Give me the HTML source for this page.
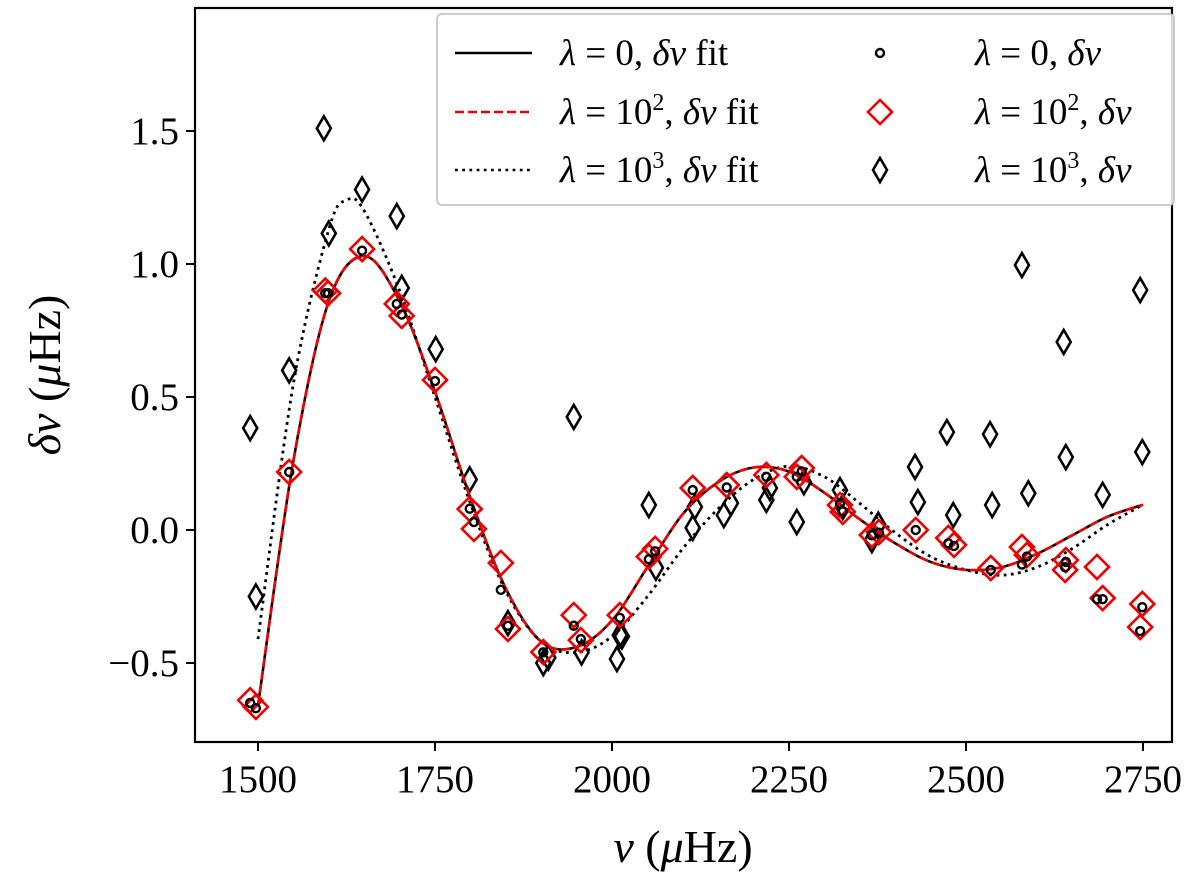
<!DOCTYPE html>
<html><head><meta charset="utf-8"><style>
html,body{margin:0;padding:0;background:#fff;}
svg text{font-family:"Liberation Serif",serif;fill:#000;}
</style></head><body>
<svg id="chart" width="1200" height="877" viewBox="0 0 1200 877" xmlns="http://www.w3.org/2000/svg">
<g id="plot"></g>
<g id="axes"></g>
<g id="legend"></g>
</svg>
<script>
// ---- data ----
const fitX = [1500,1550,1600,1650,1700,1750,1800,1850,1900,1950,2000,2050,2100,2150,2200,2250,2300,2350,2400,2450,2500,2550,2600,2650,2700,2750];
const fit0Y = [-0.66,0.26,0.86,1.03,0.86,0.52,0.12,-0.22,-0.42,-0.44,-0.34,-0.14,0.06,0.18,0.235,0.22,0.14,0.04,-0.05,-0.12,-0.15,-0.14,-0.09,-0.02,0.05,0.095];
const fit3X = [1500,1550,1600,1625,1650,1700,1750,1800,1850,1900,1950,2000,2050,2100,2150,2200,2250,2300,2350,2400,2450,2500,2550,2600,2650,2700,2750];
const fit3Y = [-0.41,0.55,1.13,1.24,1.20,0.90,0.50,0.10,-0.23,-0.42,-0.46,-0.40,-0.25,-0.07,0.08,0.19,0.24,0.20,0.10,-0.01,-0.10,-0.15,-0.17,-0.14,-0.07,0.02,0.095];
const ptX = [1489,1497,1544,1595,1599,1647,1696,1703,1750,1799,1805,1843,1853,1903,1946,1956,2011,2052,2061,2114,2162,2218,2261,2268,2322,2326,2367,2377,2429,2475,2483,2535,2579,2586,2641,2640,2685,2693,2749,2746];
const red2Y = [-0.64,-0.665,0.218,0.90,0.89,1.056,0.85,0.805,0.564,0.079,0.004,-0.124,-0.372,-0.459,-0.32,-0.414,-0.32,-0.10,-0.071,0.158,0.169,0.207,0.20,0.233,0.094,0.068,-0.019,-0.008,0.0,-0.03,-0.056,-0.143,-0.064,-0.094,-0.113,-0.15,-0.139,-0.256,-0.278,-0.365];
const circ0Y = [-0.65,-0.67,0.218,0.89,0.89,1.05,0.85,0.81,0.56,0.08,0.03,-0.225,-0.36,-0.46,-0.36,-0.41,-0.33,-0.11,-0.08,0.15,0.16,0.20,0.20,0.22,0.10,0.07,-0.02,-0.01,0.0,-0.05,-0.06,-0.15,-0.13,-0.10,-0.12,-0.14,-0.26,-0.26,-0.29,-0.38];
const blkX = [1489,1497,1544,1593,1600,1647,1696,1703,1751,1799,1853,1903,1910,1946,1957,2007,2014,2011,2052,2062,2114,2117,2158,2168,2218,2223,2261,2271,2322,2326,2367,2376,2428,2432,2473,2482,2534,2537,2579,2588,2638,2641,2693,2746,2749];
const blkY = [0.383,-0.25,0.60,1.51,1.115,1.28,1.18,0.91,0.68,0.19,-0.35,-0.50,-0.48,0.425,-0.46,-0.485,-0.40,-0.395,0.094,-0.142,0.008,0.087,0.056,0.101,0.113,0.158,0.03,0.18,0.15,0.087,-0.038,0.02,0.237,0.105,0.368,0.056,0.36,0.094,0.996,0.138,0.707,0.274,0.132,0.902,0.293];
const xTicks = [1500,1750,2000,2250,2500,2750];
const xTickLabels = ["1500","1750","2000","2250","2500","2750"];
const yTicks = [-0.5,0,0.5,1.0,1.5];
const yTickLabels = ["\u22120.5","0.0","0.5","1.0","1.5"];

// ---- scales ----
const L=195,R=1172,T=8,B=742;
const sx = v => 258 + (v-1500)*0.708;
const sy = v => 530 - v*266;
const NS="http://www.w3.org/2000/svg";
function mk(tag,attrs,parent){const e=document.createElementNS(NS,tag);for(const k in attrs)e.setAttribute(k,attrs[k]);parent.appendChild(e);return e;}
const plot=document.getElementById('plot'), axes=document.getElementById('axes'), leg=document.getElementById('legend');

function smoothPath(xs,ys){
  const p=xs.map((x,i)=>[sx(x),sy(ys[i])]);
  let d=`M${p[0][0]},${p[0][1]}`;
  for(let i=0;i<p.length-1;i++){
    const p0=p[Math.max(0,i-1)],p1=p[i],p2=p[i+1],p3=p[Math.min(p.length-1,i+2)];
    const c1=[p1[0]+(p2[0]-p0[0])/6,p1[1]+(p2[1]-p0[1])/6];
    const c2=[p2[0]-(p3[0]-p1[0])/6,p2[1]-(p3[1]-p1[1])/6];
    d+=` C${c1[0]},${c1[1]} ${c2[0]},${c2[1]} ${p2[0]},${p2[1]}`;
  }
  return d;
}
function diamond(cx,cy,w,h){return `M${cx},${cy-h} L${cx+w},${cy} L${cx},${cy+h} L${cx-w},${cy} Z`;}

blkX.forEach((x,i)=>{
  const e=mk('path',{d:diamond(sx(x),sy(blkY[i]),7,12),fill:'none',stroke:'#000','stroke-width':2.6},plot);
  
  
});
let f=mk('path',{d:smoothPath(fit3X,fit3Y),fill:'none',stroke:'#000','stroke-width':2.8,'stroke-dasharray':'2.8 4.4'},plot);


f=mk('path',{d:smoothPath(fitX,fit0Y),fill:'none',stroke:'#000','stroke-width':2.6},plot);


f=mk('path',{d:smoothPath(fitX,fit0Y),fill:'none',stroke:'#e00','stroke-width':2.6,'stroke-dasharray':'9 4'},plot);


ptX.forEach((x,i)=>{
  const e=mk('path',{d:diamond(sx(x),sy(red2Y[i]),12,12),fill:'none',stroke:'#e00','stroke-width':2.6},plot);
  
  
});
ptX.forEach((x,i)=>{
  const e=mk('circle',{cx:sx(x),cy:sy(circ0Y[i]),r:4,fill:'none',stroke:'#000','stroke-width':2.4},plot);
  
  
});

let fr=mk('rect',{x:L,y:T,width:R-L,height:B-T,fill:'none',stroke:'#000','stroke-width':2.2},axes);


xTicks.forEach((v,i)=>{
  const t=mk('line',{x1:sx(v),x2:sx(v),y1:B,y2:B+9,stroke:'#000','stroke-width':2},axes);
  
  
  const l=mk('text',{x:sx(v),y:B+50,'text-anchor':'middle','font-size':39},axes);
  l.textContent=xTickLabels[i];
  
  
});
yTicks.forEach((v,i)=>{
  const t=mk('line',{x1:L-9,x2:L,y1:sy(v),y2:sy(v),stroke:'#000','stroke-width':2},axes);
  
  
  const l=mk('text',{x:L-16,y:sy(v)+13,'text-anchor':'end','font-size':39},axes);
  l.textContent=yTickLabels[i];
  
  
});
let xl=mk('text',{x:683,y:862,'text-anchor':'middle','font-size':46},axes);
xl.innerHTML='<tspan font-style="italic">ν</tspan> (<tspan font-style="italic">μ</tspan>Hz)';


let yl=mk('text',{x:0,y:0,'text-anchor':'middle','font-size':46,transform:'translate(60,375) rotate(-90)'},axes);
yl.innerHTML='<tspan font-style="italic">δν</tspan> (<tspan font-style="italic">μ</tspan>Hz)';



let box=mk('rect',{x:437,y:14,width:737,height:191,rx:5,fill:'#fff','fill-opacity':0.85,stroke:'#ccc','stroke-width':2},leg);


const rows=[53,112,170];
const lineStyles=[{stroke:'#000'},{stroke:'#e00','stroke-dasharray':'9 4'},{stroke:'#000','stroke-dasharray':'2.8 4.4'}];
const lineLabels=['<tspan font-style="italic">λ</tspan> = 0, <tspan font-style="italic">δν</tspan> fit','<tspan font-style="italic">λ</tspan> = 10<tspan dy="-14" font-size="24">2</tspan><tspan dy="14">, </tspan><tspan font-style="italic">δν</tspan> fit','<tspan font-style="italic">λ</tspan> = 10<tspan dy="-14" font-size="24">3</tspan><tspan dy="14">, </tspan><tspan font-style="italic">δν</tspan> fit'];
const mkLabels=['<tspan font-style="italic">λ</tspan> = 0, <tspan font-style="italic">δν</tspan>','<tspan font-style="italic">λ</tspan> = 10<tspan dy="-14" font-size="24">2</tspan><tspan dy="14">, </tspan><tspan font-style="italic">δν</tspan>','<tspan font-style="italic">λ</tspan> = 10<tspan dy="-14" font-size="24">3</tspan><tspan dy="14">, </tspan><tspan font-style="italic">δν</tspan>'];
rows.forEach((y,i)=>{
  const ln=mk('line',Object.assign({x1:455,x2:532,y1:y,y2:y,'stroke-width':2.6},lineStyles[i]),leg);
  
  
  const t=mk('text',{x:560,y:y+12,'font-size':37},leg);
  t.innerHTML=lineLabels[i];
  
  
  let m;
  if(i===0) m=mk('circle',{cx:880,cy:y,r:4,fill:'none',stroke:'#000','stroke-width':2.4},leg);
  else if(i===1) m=mk('path',{d:diamond(880,y,12,12),fill:'none',stroke:'#e00','stroke-width':2.6},leg);
  else m=mk('path',{d:diamond(880,y,7,12),fill:'none',stroke:'#000','stroke-width':2.6},leg);
  
  
  const t2=mk('text',{x:975,y:y+12,'font-size':37},leg);
  t2.innerHTML=mkLabels[i];
  
  
});
</script>
</body></html>
